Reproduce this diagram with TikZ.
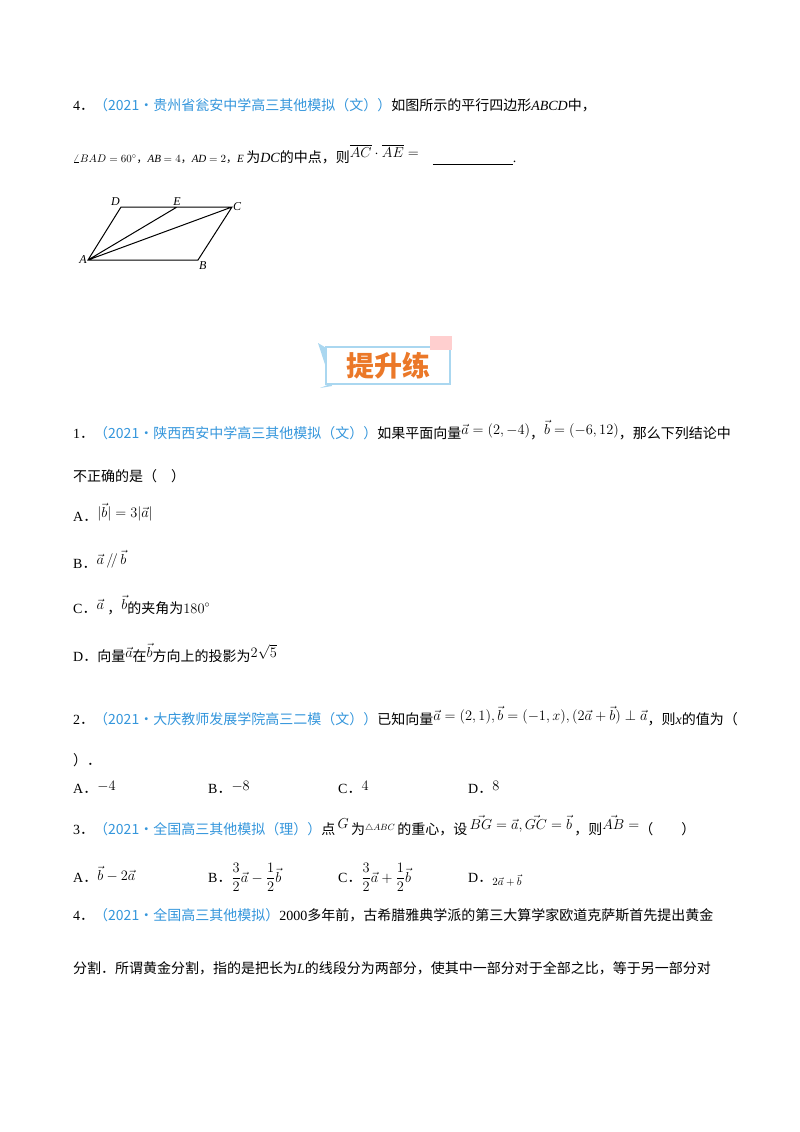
\documentclass[tikz,border=0pt]{standalone}
\usepackage{fontspec}
\setmainfont{Liberation Serif}
\newfontfamily\cjk{Noto Sans CJK SC}
\usepackage{amsmath}
\newcommand\qd{{\cjk ．}}
\newcommand\qc{{\cjk ，}}
\definecolor{qblue}{RGB}{52,150,220}
\definecolor{qorange}{RGB}{235,120,40}
\definecolor{qsky}{RGB}{170,215,240}
\begin{document}
\begin{tikzpicture}[x=1pt,y=-1pt,
  t/.style={anchor=base west,inner sep=0pt,font=\fontsize{14}{16}\selectfont},
  lab/.style={inner sep=1pt,font=\fontsize{12}{14}\selectfont\itshape}]
\useasboundingbox (0,0) rectangle (800,1132);
\fill[white] (0,0) rectangle (800,1132);
% question 4
\node[t] (q4a) at (73,110) {4\qd{\cjk\color{qblue}（2021•贵州省瓮安中学高三其他模拟（文））}{\cjk 如图所示的平行四边形}\textit{ABCD}{\cjk 中，}};
\node[t] (q4b) at (73,162) {{\fontsize{11}{13}\selectfont$\angle BAD=60^\circ$\qc\textit{AB} $=4$\qc\textit{AD} $=2$\qc\textit{E}}\,{\cjk 为}\textit{DC}{\cjk 的中点，则}\raisebox{5pt}{$\overline{AC}\cdot\overline{AE}=$}\quad\underline{\hspace{80pt}}.};
% figure
\coordinate (A) at (88,260); \coordinate (B) at (198,260);
\coordinate (C) at (232,207); \coordinate (D) at (121,207);
\coordinate (E) at (177,207);
\draw[line width=1pt] (A)--(B)--(C)--(D)--cycle (A)--(E) (A)--(C);
\node[lab,anchor=east] (la) at (A) {A};
\node[lab,anchor=north west] (lb) at (B) {B};
\node[lab,anchor=west] (lc) at (C) {C};
\node[lab,anchor=south east] (ld) at (D) {D};
\node[lab,anchor=south] (le) at (E) {E};
% banner
\fill[qsky] (318,343) -- (328,349) -- (330,384) -- (320,388) -- (332,386) -- cycle;
\draw[qsky,line width=1.5pt,fill=white] (326,347) rectangle (450,384);
\fill[pink!70!red!40] (430,336) rectangle (452,350);
\node (banner) at (388,366) {\fontsize{28}{30}\selectfont\cjk\bfseries\color{qorange}提升练};
% problem 1
\node[t] (p1) at (73,438) {1\qd{\cjk\color{qblue}（2021•陕西西安中学高三其他模拟（文））}{\cjk 如果平面向量}\raisebox{4pt}{$\vec a=(2,-4)$}\qc\raisebox{4pt}{$\vec b=(-6,12)$}{\cjk ，那么下列结论中}};
\node[t] (p1b) at (73,481) {\cjk 不正确的是（\quad ）};
\node[t] (o1a) at (73,521) {A\qd\raisebox{4pt}{$|\vec b|=3|\vec a|$}};
\node[t] (o1b) at (73,568) {B\qd\raisebox{4pt}{$\vec a\,/\!/\,\vec b$}};
\node[t] (o1c) at (73,613) {C\qd\raisebox{4pt}{$\vec a$}\ \qc\raisebox{4pt}{$\vec b$}{\cjk 的夹角为}$180^\circ$};
\node[t] (o1d) at (73,661) {D\qd{\cjk 向量}\raisebox{4pt}{$\vec a$}{\cjk 在}\raisebox{4pt}{$\vec b$}{\cjk 方向上的投影为}\raisebox{4pt}{$2\sqrt5$}};
% problem 2
\node[t] (p2) at (73,724) {2\qd{\cjk\color{qblue}（2021•大庆教师发展学院高三二模（文））}{\cjk 已知向量}\raisebox{4pt}{$\vec a=(2,1),\vec b=(-1,x),(2\vec a+\vec b)\perp\vec a$}{\cjk ，则}\textit{x}{\cjk 的值为（}};
\node[t] (p2b) at (73,765) {\cjk ）．};
\node[t] (o2a) at (73,793) {A\qd\raisebox{3pt}{$-4$}};
\node[t] (o2b) at (208,793) {B\qd\raisebox{3pt}{$-8$}};
\node[t] (o2c) at (338,793) {C\qd\raisebox{3pt}{$4$}};
\node[t] (o2d) at (468,793) {D\qd\raisebox{3pt}{$8$}};
% problem 3
\node[t] (p3) at (73,834) {3\qd{\cjk\color{qblue}（2021•全国高三其他模拟（理））}{\cjk 点}\,\raisebox{6pt}{$G$}\,{\cjk 为}\raisebox{4pt}{\fontsize{9}{11}\selectfont$\triangle ABC$}\,{\cjk 的重心，设}\,\raisebox{5pt}{$\vec{BG}=\vec a,\vec{GC}=\vec b$}\,{\cjk ，则}\raisebox{5pt}{$\vec{AB}=$}{\cjk （\qquad ）}};
\node[t] (o3a) at (73,882) {A\qd\raisebox{2pt}{$\vec b-2\vec a$}};
\node[t] (o3b) at (208,882) {B\qd$\dfrac32\vec a-\dfrac12\vec b$};
\node[t] (o3c) at (338,882) {C\qd$\dfrac32\vec a+\dfrac12\vec b$};
\node[t] (o3d) at (468,882) {D\qd\raisebox{-3pt}{\fontsize{11}{13}\selectfont$2\vec a+\vec b$}};
% problem 4
\node[t] (p4) at (73,920) {4\qd{\cjk\color{qblue}（2021•全国高三其他模拟）}2000{\cjk 多年前，古希腊雅典学派的第三大算学家欧道克萨斯首先提出黄金}};
\node[t] (p4b) at (73,973) {\cjk 分割．所谓黄金分割，指的是把长为{\rmfamily\itshape L}的线段分为两部分，使其中一部分对于全部之比，等于另一部分对};
\end{tikzpicture}
\end{document}
